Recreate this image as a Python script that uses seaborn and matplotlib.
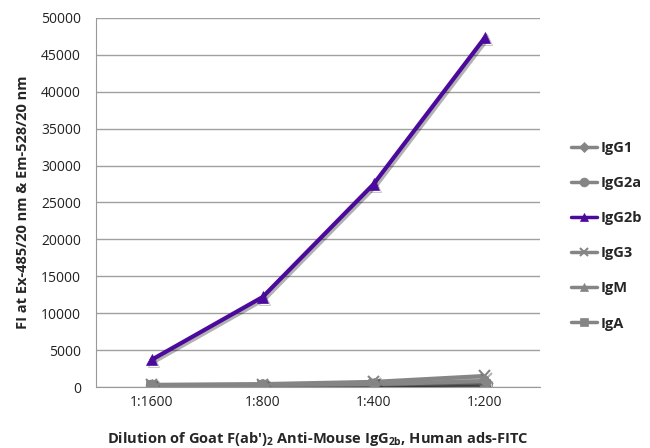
"""
Line chart of FITC signal versus dilution for goat anti-mouse IgG2b
tested against a panel of mouse immunoglobulin isotypes.
"""
import pandas as pd
import matplotlib
matplotlib.use("Agg")
import matplotlib.pyplot as plt
import matplotlib.patheffects as pe
import seaborn as sns

dilutions = ["1:1600", "1:800", "1:400", "1:200"]
isotypes = ["IgG1", "IgG2a", "IgG2b", "IgG3", "IgM", "IgA"]

igg1 = [250, 300, 400, 800]
igg2a = [200, 250, 350, 600]
igg2b = [3700, 12200, 27500, 47300]
igg3 = [300, 400, 700, 1500]
igm = [200, 250, 300, 500]
iga = [150, 200, 300, 400]

y_ticks = list(range(0, 50001, 5000))


def build_frame():
    series = [igg1, igg2a, igg2b, igg3, igm, iga]
    rows = []
    for name, vals in zip(isotypes, series):
        for d, v in zip(dilutions, vals):
            rows.append({"dilution": d, "isotype": name, "fi": v})
    return pd.DataFrame(rows)


def main():
    df = build_frame()
    sns.set_style("white")
    plt.rcParams["font.family"] = ["Open Sans", "DejaVu Sans"]
    plt.rcParams["mathtext.fontset"] = "custom"
    plt.rcParams["mathtext.rm"] = "Open Sans:bold"

    fig = plt.figure(figsize=(6.5, 4.48), dpi=100)
    ax = fig.add_axes([0.148, 0.136, 0.683, 0.824])

    gray = "#858585"
    palette = {k: gray for k in isotypes}
    palette["IgG2b"] = "#4b0a9c"
    markers = {"IgG1": "D", "IgG2a": "o", "IgG2b": "^", "IgG3": "x",
               "IgM": "^", "IgA": "s"}

    # draw grey series first so IgG2b sits on top
    draw_order = ["IgA", "IgM", "IgG3", "IgG2a", "IgG1", "IgG2b"]
    shadow = [pe.SimpleLineShadow(offset=(1.5, -1.5), alpha=0.3),
              pe.Normal()]
    for name in draw_order:
        sub = df[df["isotype"] == name]
        sns.lineplot(data=sub, x="dilution", y="fi", ax=ax,
                     color=palette[name], marker=markers[name],
                     markersize=8 if markers[name] != "D" else 6,
                     markeredgewidth=1.5 if markers[name] == "x" else 0.5,
                     markeredgecolor=palette[name],
                     linewidth=3, label=name, sort=False,
                     path_effects=shadow)

    ax.set_xlim(-0.5, len(dilutions) - 0.5)
    ax.set_ylim(0, 50000)
    ax.set_yticks(y_ticks)
    ax.set_yticklabels([str(t) for t in y_ticks])
    ax.set_xticks(range(len(dilutions)))
    ax.set_xticklabels(dilutions)
    ax.tick_params(axis="both", labelsize=10, colors="#222222",
                   length=0, pad=6)
    # minor ticks between categories like the original
    ax.set_xticks([i + 0.5 for i in range(len(dilutions) - 1)], minor=True)
    ax.tick_params(axis="x", which="minor", length=5, color="#999999",
                   direction="out")
    ax.tick_params(axis="y", length=5, color="#999999", direction="out")

    ax.grid(axis="y", color="#a0a0a0", linewidth=1)
    for side in ["top", "right"]:
        ax.spines[side].set_visible(False)
    ax.spines["left"].set_color("#999999")
    ax.spines["bottom"].set_color("#999999")

    ax.set_xlabel("Dilution of Goat F(ab')$\\mathrm{_2}$ Anti-Mouse "
                  "IgG$\\mathrm{_{2b}}$, Human ads-FITC", fontsize=10.5,
                  fontweight="bold", labelpad=14)
    ax.set_ylabel("FI at Ex-485/20 nm & Em-528/20 nm", fontsize=10.5,
                  fontweight="bold", labelpad=8)

    handles, labels = ax.get_legend_handles_labels()
    lookup = dict(zip(labels, handles))
    leg = ax.legend([lookup[k] for k in isotypes], isotypes,
                    loc="center left", bbox_to_anchor=(1.04, 0.41),
                    frameon=False, labelspacing=1.45, handlelength=1.8,
                    handletextpad=0.2, markerscale=0.8,
                    prop={"weight": "bold", "size": 10.5})
    for line in leg.get_lines():
        line.set_linewidth(2.5)
        line.set_path_effects([])

    plt.savefig("out.png", dpi=100)


if __name__ == '__main__':
    main()
